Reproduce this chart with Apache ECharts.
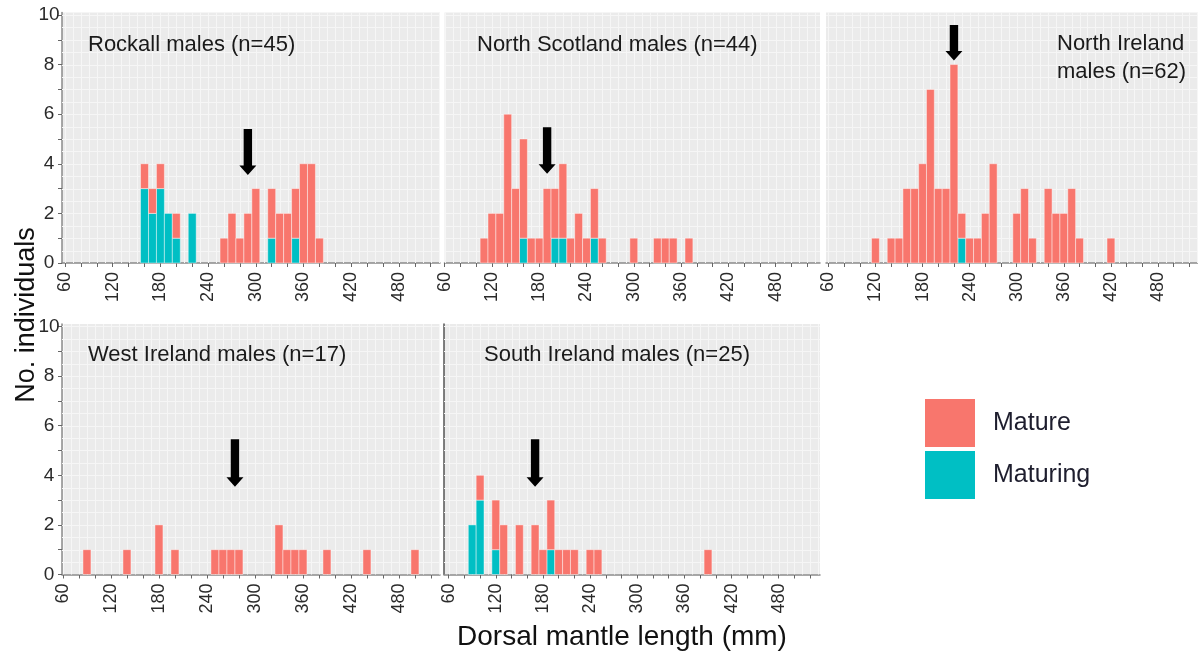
<!DOCTYPE html>
<html><head><meta charset="utf-8">
<script src="https://cdn.jsdelivr.net/npm/echarts@6/dist/echarts.min.js"></script>
<style>html,body{margin:0;padding:0;background:#fff}#c{width:1198px;height:657px}</style>
</head><body><div id="c"></div>
<script>
// ---------------- DATA ----------------
// bin centres (mm, 10 mm bins) and counts per maturity stage
const rockallBins     = [160,170,180,190,200,220,260,270,280,290,300,320,330,340,350,360,370,380];
const rockallMature   = [1,1,1,0,1,0,1,2,1,2,3,2,2,2,2,4,4,1];
const rockallMaturing = [3,2,3,2,1,2,0,0,0,0,0,1,0,0,1,0,0,0];

const nScotBins     = [110,120,130,140,150,160,170,180,190,200,210,220,230,240,250,260,300,330,340,350,370];
const nScotMature   = [1,2,2,6,3,4,1,1,3,2,3,1,2,1,2,1,1,1,1,1,1];
const nScotMaturing = [0,0,0,0,0,1,0,0,0,1,1,0,0,0,1,0,0,0,0,0,0];

const nIreBins     = [120,140,150,160,170,180,190,200,210,220,230,240,250,260,270,300,310,320,340,350,360,370,380,420];
const nIreMature   = [1,1,1,3,3,4,7,3,3,8,1,1,1,2,4,2,3,1,3,2,2,3,1,1];
const nIreMaturing = [0,0,0,0,0,0,0,0,0,0,1,0,0,0,0,0,0,0,0,0,0,0,0,0];

const wIreBins     = [90,140,180,200,250,260,270,280,330,340,350,360,390,440,500];
const wIreMature   = [1,1,2,1,1,1,1,1,2,1,1,1,1,1,1];
const wIreMaturing = [0,0,0,0,0,0,0,0,0,0,0,0,0,0,0];

const sIreBins     = [90,100,120,130,150,170,180,190,200,210,220,240,250,390];
const sIreMature   = [0,1,2,2,2,2,1,2,1,1,1,1,1,1];
const sIreMaturing = [2,3,1,0,0,0,0,1,0,0,0,0,0,0];

// mean-length arrows (x in mm, tip/top in counts)
const arrowX   = [290, 190, 220, 275, 170];
const arrowTip = [3.55, 3.6, 8.16, 3.54, 3.54];
const arrowTop = [5.4, 5.47, 9.6, 5.45, 5.45];

const panelTitles = ['Rockall males (n=45)', 'North Scotland males (n=44)', 'North Ireland', 'males (n=62)', 'West Ireland males (n=17)', 'South Ireland males (n=25)'];
const seriesNames = ['Mature', 'Maturing'];

const xLabelValues = [60,120,180,240,300,360,420,480];
const xTickValues  = [60,80,100,120,140,160,180,200,220,240,260,280,300,320,340,360,380,400,420,440,460,480,500,520];
const yLabelValues = [0,2,4,6,8,10];
const yTickValues  = [0,1,2,3,4,5,6,7,8,9,10];
const xGridValues  = [60,70,80,90,100,110,120,130,140,150,160,170,180,190,200,210,220,230,240,250,260,270,280,290,300,310,320,330,340,350,360,370,380,390,400,410,420,430,440,450,460,470,480,490,500,510,520,530];
const yGridValues  = [0.5,1,1.5,2,2.5,3,3.5,4,4.5,5,5.5,6,6.5,7,7.5,8,8.5,9,9.5,10];

// ---------------- LAYOUT ----------------
const panels = [
  {bins: rockallBins, mature: rockallMature, maturing: rockallMaturing},
  {bins: nScotBins,   mature: nScotMature,   maturing: nScotMaturing},
  {bins: nIreBins,    mature: nIreMature,    maturing: nIreMaturing},
  {bins: wIreBins,    mature: wIreMature,    maturing: wIreMaturing},
  {bins: sIreBins,    mature: sIreMature,    maturing: sIreMaturing}
];
const layouts = [
  {left: 62,    top: 12.5, width: 378,   height: 250.5, xmin: 56.2, xmax: 531.7, yLabels: true,  yLine: true,  yLineColor: '#8a8a8a'},
  {left: 444.5, top: 12.5, width: 375.5, height: 250.5, xmin: 59.8, xmax: 536.3, yLabels: false, yLine: false},
  {left: 826,   top: 12.5, width: 372,   height: 250.5, xmin: 57,   xmax: 530.9, yLabels: false, yLine: false},
  {left: 62,    top: 324,  width: 378,   height: 250.5, xmin: 58.8, xmax: 531.3, yLabels: true,  yLine: true,  yLineColor: '#8a8a8a'},
  {left: 444,   top: 324,  width: 376,   height: 250.5, xmin: 54.1, xmax: 532.5, yLabels: false, yLine: true,  yLineColor: '#555'}
];
const COLOR_MATURE = '#F8766D';
const COLOR_MATURING = '#00BFC4';
const FONT = '"Liberation Sans", Arial, sans-serif';
const BIN = 10;

function barRender(params, api) {
  const x = api.value(0), y0 = api.value(1), y1 = api.value(2);
  if (!(y1 > y0)) return null;
  const a = api.coord([x - BIN / 2, y1]);
  const b = api.coord([x + BIN / 2, y0]);
  return {
    type: 'rect',
    shape: {x: a[0], y: a[1], width: b[0] - a[0], height: b[1] - a[1]},
    style: {fill: api.visual('color'), stroke: 'rgba(255,255,255,0.55)', lineWidth: 0.8}
  };
}
function arrowRender(params, api) {
  const tip = api.coord([api.value(0), api.value(1)]);
  const top = api.coord([api.value(0), api.value(2)]);
  const cx = tip[0], sw = 4.2, hw = 8.5, hl = 9.5;
  return {
    type: 'polygon',
    shape: {points: [
      [cx - sw, top[1]], [cx + sw, top[1]], [cx + sw, tip[1] - hl], [cx + hw, tip[1] - hl],
      [cx, tip[1]], [cx - hw, tip[1] - hl], [cx - sw, tip[1] - hl]
    ]},
    style: {fill: '#000'}
  };
}
function vGridRender(params, api) {
  const cs = params.coordSys;
  const p = api.coord([api.value(0), 1]);
  return {type: 'line', silent: true,
    shape: {x1: Math.round(p[0]) + 0.5, y1: cs.y, x2: Math.round(p[0]) + 0.5, y2: cs.y + cs.height},
    style: {stroke: '#f6f6f6', lineWidth: 1}};
}
function hGridRender(params, api) {
  const cs = params.coordSys;
  const p = api.coord([200, api.value(1)]);
  return {type: 'line', silent: true,
    shape: {x1: cs.x, y1: Math.round(p[1]) + 0.5, x2: cs.x + cs.width, y2: Math.round(p[1]) + 0.5},
    style: {stroke: '#f6f6f6', lineWidth: 1}};
}

const grid = [], xAxis = [], yAxis = [], series = [];
layouts.forEach((L, i) => {
  grid.push({left: L.left, top: L.top, width: L.width, height: L.height, show: true,
    backgroundColor: '#EBEBEB', borderWidth: 0, outerBoundsMode: 'none', containLabel: false});
  xAxis.push({
    type: 'value', gridIndex: i, min: L.xmin, max: L.xmax,
    axisLine: {show: true, onZero: false, lineStyle: {color: '#8a8a8a', width: 1.5}},
    axisTick: {show: true, customValues: xTickValues, length: 4, lineStyle: {color: '#666', width: 1}},
    axisLabel: {show: true, customValues: xLabelValues, rotate: 90, fontSize: 18, color: '#2a2a2a', margin: 9, fontFamily: FONT},
    splitLine: {show: false}
  });
  yAxis.push({
    type: 'value', gridIndex: i, min: 0, max: 10.1,
    axisLine: {show: L.yLine, lineStyle: {color: L.yLineColor || '#8a8a8a', width: 1.5}},
    axisTick: {show: L.yLabels, customValues: yTickValues, length: 4, lineStyle: {color: '#666'}},
    axisLabel: {show: L.yLabels, customValues: yLabelValues, fontSize: 19, color: '#2a2a2a', margin: 13, align: 'center', fontFamily: FONT},
    splitLine: {show: false}
  });
  const P = panels[i];
  series.push({type: 'custom', xAxisIndex: i, yAxisIndex: i, z: 1, silent: true, renderItem: vGridRender,
    data: xGridValues.map(v => [v, 1]), encode: {x: 0, y: 1}});
  series.push({type: 'custom', xAxisIndex: i, yAxisIndex: i, z: 1, silent: true, renderItem: hGridRender,
    data: yGridValues.map(v => [200, v]), encode: {x: 0, y: 1}});
  series.push({name: seriesNames[1], type: 'custom', xAxisIndex: i, yAxisIndex: i, z: 2,
    itemStyle: {color: COLOR_MATURING}, renderItem: barRender,
    data: P.bins.map((b, k) => [b, 0, P.maturing[k]]), encode: {x: 0, y: [1, 2]}});
  series.push({name: seriesNames[0], type: 'custom', xAxisIndex: i, yAxisIndex: i, z: 2,
    itemStyle: {color: COLOR_MATURE}, renderItem: barRender,
    data: P.bins.map((b, k) => [b, P.maturing[k], P.maturing[k] + P.mature[k]]), encode: {x: 0, y: [1, 2]}});
  series.push({type: 'custom', xAxisIndex: i, yAxisIndex: i, z: 3, silent: true, renderItem: arrowRender,
    data: [[arrowX[i], arrowTip[i], arrowTop[i]]], encode: {x: 0, y: [1, 2]}});
});

function txt(x, y, text, size, extra) {
  return Object.assign({type: 'text', x: x, y: y, z: 100, zlevel: 0, silent: true,
    style: {text: text, font: size + 'px ' + FONT, fill: '#1a1a1a', align: 'left', verticalAlign: 'middle'}}, extra || {});
}
const graphic = {elements: [
  txt(88, 45, panelTitles[0], 22),
  txt(477, 45, panelTitles[1], 22),
  txt(1057, 44, panelTitles[2], 22),
  txt(1057, 72, panelTitles[3], 22),
  txt(88, 355, panelTitles[4], 22),
  txt(484, 355, panelTitles[5], 22),
  {type: 'text', x: 27, y: 315, rotation: Math.PI / 2, z: 100, silent: true,
    style: {text: 'No. individuals', font: '27px ' + FONT, fill: '#111', align: 'center', verticalAlign: 'middle'}},
  {type: 'text', x: 622, y: 637, z: 100, silent: true,
    style: {text: 'Dorsal mantle length (mm)', font: '28px ' + FONT, fill: '#111', align: 'center', verticalAlign: 'middle'}}
]};

const chart = echarts.init(document.getElementById('c'), null, {renderer: 'canvas'});
chart.setOption({
  animation: false,
  backgroundColor: '#ffffff',
  grid: grid, xAxis: xAxis, yAxis: yAxis, series: series, graphic: graphic,
  legend: {data: seriesNames, orient: 'vertical', left: 925, top: 399, itemWidth: 50, itemHeight: 48, itemGap: 4,
    icon: 'rect', padding: 0, selectedMode: false,
    textStyle: {fontSize: 25, color: '#1e1e2e', fontFamily: FONT, padding: [0, 0, 0, 13]}}
});
</script></body></html>
